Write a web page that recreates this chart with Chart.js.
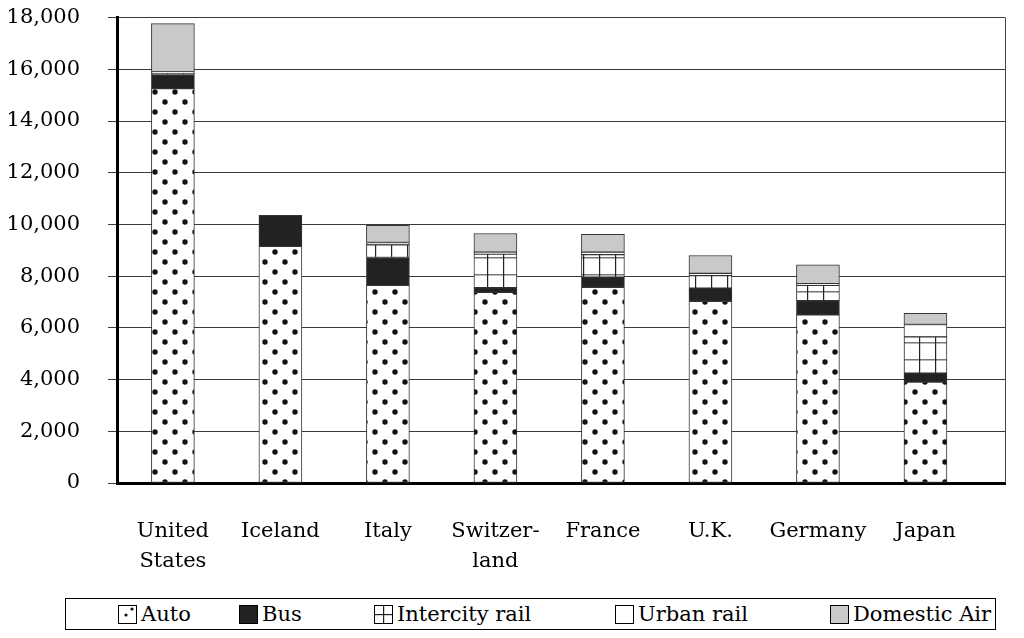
<!DOCTYPE html>
<html>
<head>
<meta charset="utf-8">
<script src="https://cdn.jsdelivr.net/npm/chart.js@4/dist/chart.umd.min.js"></script>
<style>
  body { margin: 0; background: #fff; font-family: "DejaVu Serif", serif; }
  #wrap { position: relative; width: 1024px; height: 638px; overflow: hidden; }
  #box { position: absolute; left: 0; top: -23px; width: 1024px; height: 613px; }
  #legend { position: absolute; left: 65px; top: 598px; width: 931px; height: 32px;
            border: 1.5px solid #000; box-sizing: border-box; font-size: 21px; color: #000; }
  .item { position: absolute; top: 0; height: 30px; display: flex; align-items: center; }
  .item canvas { border: 1px solid #000; margin-right: 4px; box-sizing: border-box; }
</style>
</head>
<body>
<div id="wrap">
  <div id="box"><canvas id="myChart"></canvas></div>
  <div id="legend"></div>
</div>
<script>
const countries = [["United", "States"], "Iceland", "Italy", ["Switzer-", "land"], "France", "U.K.", "Germany", "Japan"];

const auto      = [15250, 9150, 7650, 7370, 7570, 7030, 6500, 3900];
const bus       = [550, 1200, 1070, 180, 390, 510, 550, 350];
const intercity = [40, 0, 490, 1300, 870, 480, 600, 1400];
const urban     = [60, 0, 90, 80, 100, 90, 60, 480];
const air       = [1870, 0, 670, 720, 690, 690, 730, 430];

const seriesNames = ["Auto", "Bus", "Intercity rail", "Urban rail", "Domestic Air"];
const yTicks = [0, 2000, 4000, 6000, 8000, 10000, 12000, 14000, 16000, 18000];

// patterns
function dotPattern() {
  const c = document.createElement("canvas");
  c.width = 20; c.height = 20;
  const g = c.getContext("2d");
  g.fillStyle = "#fff"; g.fillRect(0, 0, 20, 20);
  g.fillStyle = "#111";
  g.beginPath(); g.arc(5, 5, 2.7, 0, Math.PI * 2); g.fill();
  g.beginPath(); g.arc(15, 15, 2.7, 0, Math.PI * 2); g.fill();
  return c;
}
function gridPattern() {
  const c = document.createElement("canvas");
  c.width = 16; c.height = 17;
  const g = c.getContext("2d");
  g.fillStyle = "#fff"; g.fillRect(0, 0, 16, 17);
  g.fillStyle = "#777"; g.fillRect(0, 8, 16, 1.5);
  g.fillStyle = "#222"; g.fillRect(7, 0, 1.2, 17);
  return c;
}

const ctx = document.getElementById("myChart").getContext("2d");
const fills = [
  ctx.createPattern(dotPattern(), "repeat"),
  "#222222",
  ctx.createPattern(gridPattern(), "repeat"),
  "#ffffff",
  "#c8c9cb"
];

const allSeries = [auto, bus, intercity, urban, air];
const datasets = allSeries.map((vals, i) => ({
  label: seriesNames[i],
  data: vals.map((v, j) => ({x: j, y: v})),
  backgroundColor: fills[i],
  borderColor: "#333",
  borderWidth: 1,
  borderSkipped: false,
  barThickness: 43
}));

const framePlugin = {
  id: "frame",
  afterDatasetsDraw(chart) {
    const a = chart.chartArea;
    const g = chart.ctx;
    g.save();
    g.strokeStyle = "#444";
    g.lineWidth = 1;
    g.beginPath();
    g.moveTo(a.right + 0.5, a.top);
    g.lineTo(a.right + 0.5, a.bottom);
    g.stroke();
    g.restore();
  }
};

const serif = "'DejaVu Serif', serif";

new Chart(ctx, {
  type: "bar",
  data: { datasets: datasets },
  options: {
    responsive: true,
    maintainAspectRatio: false,
    animation: false,
    layout: { padding: { top: 0, right: 19, left: 0, bottom: 0 } },
    plugins: {
      legend: { display: false },
      tooltip: { enabled: false }
    },
    scales: {
      x: {
        type: "linear",
        stacked: true,
        offset: false,
        min: -0.52,
        max: 7.74,
        afterBuildTicks(scale) {
          scale.ticks = countries.map((_, i) => ({ value: i }));
        },
        afterFit(scale) { scale.height = 107; },
        grid: { drawOnChartArea: false, drawTicks: false, offset: false },
        border: { color: "#000", width: 3 },
        ticks: {
          padding: 34,
          color: "#000",
          autoSkip: false,
          maxRotation: 0,
          font: { family: serif, size: 21, lineHeight: 1.4 },
          callback: (v) => countries[v]
        }
      },
      y: {
        stacked: true,
        min: 0,
        max: 18000,
        afterBuildTicks(scale) {
          scale.ticks = yTicks.map(v => ({ value: v }));
        },
        afterFit(scale) { scale.width = 117; },
        grid: { color: "#3a3a3a", lineWidth: 1, tickLength: 9 },
        border: { color: "#000", width: 3 },
        ticks: {
          padding: 28,
          color: "#000",
          font: { family: serif, size: 21 },
          callback: (v) => v.toLocaleString("en-US")
        }
      }
    }
  },
  plugins: [framePlugin]
});

// legend
const legendX = [52, 173, 308, 549, 764];
const legend = document.getElementById("legend");
seriesNames.forEach((name, i) => {
  const item = document.createElement("div");
  item.className = "item";
  item.style.left = legendX[i] + "px";
  const sw = document.createElement("canvas");
  sw.width = 17; sw.height = 17;
  const g = sw.getContext("2d");
  if (i === 0) {
    g.fillStyle = "#fff"; g.fillRect(0, 0, 17, 17);
    g.fillStyle = "#111";
    g.beginPath(); g.arc(7, 9, 1.6, 0, Math.PI * 2); g.fill();
    g.beginPath(); g.arc(13, 3, 1.6, 0, Math.PI * 2); g.fill();
  } else if (i === 2) {
    g.fillStyle = "#fff"; g.fillRect(0, 0, 17, 17);
    g.fillStyle = "#222"; g.fillRect(0, 8, 17, 1.2); g.fillRect(8, 0, 1.2, 17);
  } else {
    g.fillStyle = fills[i]; g.fillRect(0, 0, 17, 17);
  }
  item.appendChild(sw);
  const t = document.createElement("span");
  t.textContent = name;
  item.appendChild(t);
  legend.appendChild(item);
});
</script>
</body>
</html>
